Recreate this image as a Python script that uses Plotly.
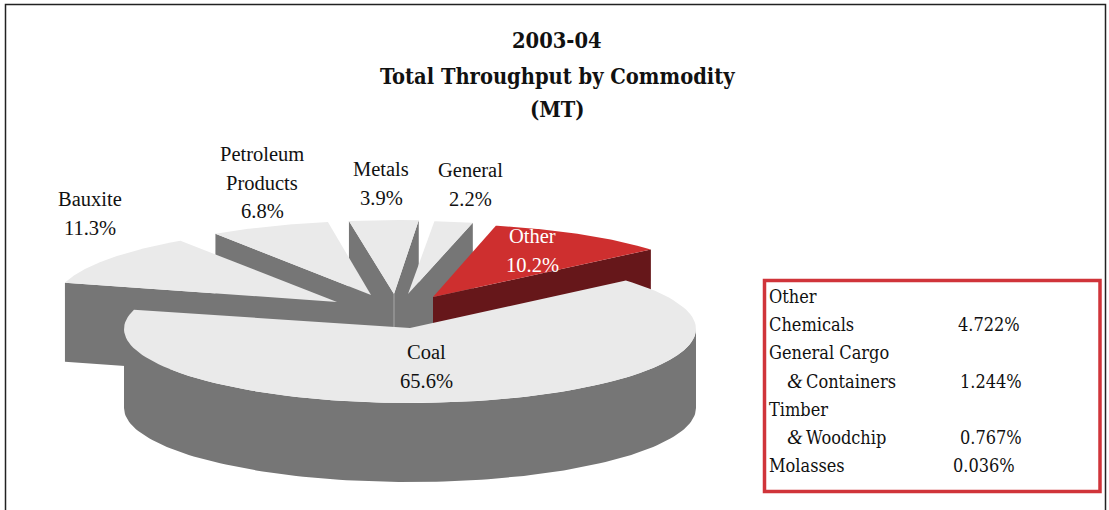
import numpy as np
import plotly.graph_objects as go

categories = ["Coal", "Bauxite", "Petroleum<br>Products", "Metals", "General", "Other"]
shares = [65.6, 11.3, 6.8, 3.9, 2.2, 10.2]
title_lines = ["2003-04", "Total Throughput by Commodity", "(MT)"]
row_names = ["Other", "Chemicals", "General Cargo", "& Containers", "Timber", "& Woodchip", "Molasses"]
row_values = [None, "4.722%", None, "1.244%", None, "0.767%", "0.036%"]

# geometry of the drawing (pixels)
A, B, DEPTH = 286, 74, 79
START = 41.0
CENTER = [(410, 329), (341, 302), (376, 295), (397, 294), (412, 295), (435, 298)]
TIP = [(410, 328), (337, 302), (371, 295), (394, 294), (408, 294), (433, 297)]
TOP = ["#EAEAEA"] * 5 + ["#CE2F2F"]
WALL = ["#767676"] * 5 + ["#66171A"]
LABEL_POS = [(426, 352), (90, 199), (262, 154), (381, 169), (470, 170), (532, 236)]
LABEL_COLOR = ["#111111"] * 5 + ["#FFFFFF"]
LINE_H = 28.5
PIE_FONT = "Liberation Serif"
TXT_FONT = "DejaVu Serif Condensed"

fig = go.Figure()


def poly(xs, ys, color):
    fig.add_trace(go.Scatter(x=xs, y=ys, mode="lines", fill="toself", fillcolor=color,
                             line=dict(width=0, color=color), hoverinfo="skip", showlegend=False))


def arc(i, t0, t1, n=120):
    t = np.radians(np.linspace(t0, t1, n))
    cx, cy = CENTER[i]
    return cx + A * np.cos(t), cy - B * np.sin(t)


# start / end angle of each slice, clockwise from START
spans = np.array(shares) / sum(shares) * 360
ends = START - np.cumsum(spans)
starts = ends + spans

for i in [3, 4, 5, 2, 1, 0]:
    t0, t1 = starts[i], ends[i]
    ax, ay = TIP[i]
    ox, oy = arc(i, t0, t1)
    # radial cut faces that look towards the viewer
    if np.cos(np.radians(t0)) < 0:
        ex, ey = arc(i, t0, t0, 1)
        poly([ax, ex[0], ex[0], ax, ax], [ay, ey[0], ey[0] + DEPTH, ay + DEPTH, ay], WALL[i])
    if np.cos(np.radians(t1)) > 0:
        ex, ey = arc(i, t1, t1, 1)
        poly([ax, ex[0], ex[0], ax, ax], [ay, ey[0], ey[0] + DEPTH, ay + DEPTH, ay], WALL[i])
    # front curved wall
    a0, a1 = max(t1, -180.0), min(t0, 0.0)
    if a1 > a0:
        wx, wy = arc(i, a0, a1)
        poly(np.r_[wx, wx[::-1], wx[0]], np.r_[wy, wy[::-1] + DEPTH, wy[0]], WALL[i])
    poly(np.r_[ax, ox, ax], np.r_[ay, oy, ay], TOP[i])
    if i == 1:
        # pale seam where the Metals and General faces meet
        fig.add_trace(go.Scatter(x=[TIP[3][0]] * 2, y=[TIP[3][1], TIP[3][1] + DEPTH / 2], mode="lines",
                                 line=dict(color="#A8A8A8", width=1), hoverinfo="skip", showlegend=False))


def text(x, y, s, size, font, color="#111111", anchor="center", bold=False):
    fig.add_annotation(x=x, y=y, xref="x", yref="y", text=f"<b>{s}</b>" if bold else s,
                       showarrow=False, xanchor=anchor, yanchor="middle", align="center",
                       font=dict(family=font, size=size, color=color))


for name, share, (lx, ly), col in zip(categories, shares, LABEL_POS, LABEL_COLOR):
    lines = name.split("<br>") + [f"{share:.1f}%"]
    for j, line in enumerate(lines):
        text(lx, ly + j * LINE_H, line, 20.5, PIE_FONT, col)

for line, y in zip(title_lines, [40, 76, 109]):
    text(557, y, line, 21.7, TXT_FONT, bold=True)

row_y = [296, 324, 352, 381, 409, 437, 465]
val_x = {"4.722%": 956, "1.244%": 958, "0.767%": 958, "0.036%": 951}
for name, val, y in zip(row_names, row_values, row_y):
    if name.startswith("&"):
        text(785, y, "<i>&</i>", 20, PIE_FONT, anchor="left")
        text(804, y, name[2:], 18, TXT_FONT, anchor="left")
    else:
        text(767, y, name, 18, TXT_FONT, anchor="left")
    if val:
        text(val_x[val], y, val, 18, TXT_FONT, anchor="left")

fig.add_shape(type="rect", x0=764.5, x1=1100, y0=280.5, y1=491.5, xref="x", yref="y",
              line=dict(color="#D0343A", width=3.5), fillcolor="rgba(0,0,0,0)")
# outer frame, open at the foot of the picture
fig.add_trace(go.Scatter(x=[5.5, 5.5, 1105.5, 1105.5], y=[510, 4.5, 4.5, 510], mode="lines",
                         line=dict(color="#222222", width=1.5), hoverinfo="skip", showlegend=False))

fig.update_layout(width=1109, height=510, margin=dict(l=0, r=0, t=0, b=0), showlegend=False,
                  paper_bgcolor="white", plot_bgcolor="white",
                  xaxis=dict(range=[0, 1109], visible=False, fixedrange=True),
                  yaxis=dict(range=[510, 0], visible=False, fixedrange=True))
fig.write_html("out.html", config={"displayModeBar": False},
               post_script="document.body.style.margin='0';document.body.style.overflow='hidden';")
